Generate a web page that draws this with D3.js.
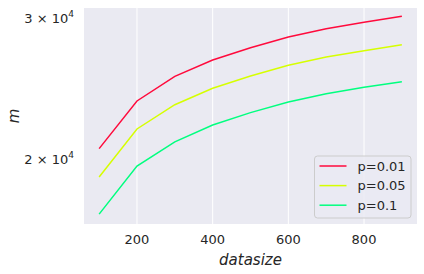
<!DOCTYPE html>
<html>
<head>
<meta charset="utf-8">
<script src="https://cdn.jsdelivr.net/npm/d3@7"></script>
<style>
  body { margin: 0; background: #fff; }
  text { font-family: "DejaVu Sans", sans-serif; fill: #262626; }
</style>
</head>
<body>
<svg width="424" height="274"></svg>
<script>
const svg = d3.select("svg"),
    margin = {left: 84, right: 7, top: 8, bottom: 50},
    width = +svg.attr("width"),
    height = +svg.attr("height")

// values
const datasize = [100, 200, 300, 400, 500, 600, 700, 800, 900]
const seriesNames = ["p=0.01", "p=0.05", "p=0.1"]
const colors = ["#ff0a3c", "#d6ff00", "#00ff7f"]
const m01 = [20590, 23620, 25360, 26580, 27540, 28400, 29090, 29630, 30150]
const m05 = [18970, 21790, 23370, 24500, 25380, 26180, 26810, 27300, 27780]
const m10 = [17050, 19580, 21000, 22040, 22840, 23550, 24120, 24570, 24970]
const xTicks = [200, 400, 600, 800]
const yTicks = [20000, 30000]

const series = [m01, m05, m10].map((vals, i) => ({
    name: seriesNames[i],
    color: colors[i],
    points: vals.map((v, j) => ({x: datasize[j], y: v}))
}))

const x = d3.scaleLinear().domain([60, 940]).range([margin.left, width - margin.right]),
    y = d3.scaleLog().domain([16570, 30880]).range([height - margin.bottom, margin.top])

// background
svg.append("rect")
    .attr("x", margin.left).attr("y", margin.top)
    .attr("width", width - margin.left - margin.right)
    .attr("height", height - margin.top - margin.bottom)
    .attr("fill", "#eaeaf2")

// grid
svg.selectAll(".vgrid")
    .data(xTicks)
    .enter()
    .append("line")
    .attr("x1", d => x(d)).attr("x2", d => x(d))
    .attr("y1", margin.top).attr("y2", height - margin.bottom)
    .attr("stroke", "#fff").attr("stroke-width", 1)

// x tick labels
svg.selectAll(".xt")
    .data(xTicks)
    .enter()
    .append("text")
    .attr("x", d => x(d))
    .attr("y", height - margin.bottom + 20)
    .attr("text-anchor", "middle")
    .attr("font-size", 13)
    .text(d => d)

// y tick labels  (a x 10^4)
const yt = svg.selectAll(".yt")
    .data(yTicks)
    .enter()
    .append("text")
    .attr("x", margin.left - 10)
    .attr("y", d => y(d) + 5)
    .attr("text-anchor", "end")
    .attr("font-size", 13)
yt.append("tspan").text(d => (d / 10000) + " \u00d7 10")
yt.append("tspan").attr("font-size", 9).attr("dy", -6).text("4")

// axis labels
svg.append("text")
    .attr("x", (margin.left + width - margin.right) / 2)
    .attr("y", height - 9)
    .attr("text-anchor", "middle")
    .attr("font-size", 15)
    .attr("font-style", "italic")
    .text("datasize")

svg.append("text")
    .attr("transform", "translate(19," + ((margin.top + height - margin.bottom) / 2) + ") rotate(-90)")
    .attr("text-anchor", "middle")
    .attr("font-size", 15)
    .attr("font-style", "italic")
    .text("m")

// lines
const line = d3.line()
    .x(d => x(d.x))
    .y(d => y(d.y))

svg.selectAll(".series")
    .data(series)
    .enter()
    .append("path")
    .attr("d", d => line(d.points))
    .attr("fill", "none")
    .attr("stroke", d => d.color)
    .attr("stroke-width", 1.5)

// legend
const lg = svg.append("g").attr("transform", "translate(314.5,156)")
lg.append("rect")
    .attr("width", 96.5).attr("height", 62)
    .attr("rx", 3)
    .attr("fill", "#eaeaf2").attr("fill-opacity", 0.8)
    .attr("stroke", "#cccccc").attr("stroke-width", 1)

const item = lg.selectAll(".item")
    .data(series)
    .enter()
    .append("g")
    .attr("transform", (d, i) => "translate(0," + (10 + i * 19.6) + ")")
item.append("line")
    .attr("x1", 5).attr("x2", 32)
    .attr("stroke", d => d.color).attr("stroke-width", 1.5)
item.append("text")
    .attr("x", 43).attr("y", 4.5)
    .attr("font-size", 13)
    .text(d => d.name)
</script>
</body>
</html>
